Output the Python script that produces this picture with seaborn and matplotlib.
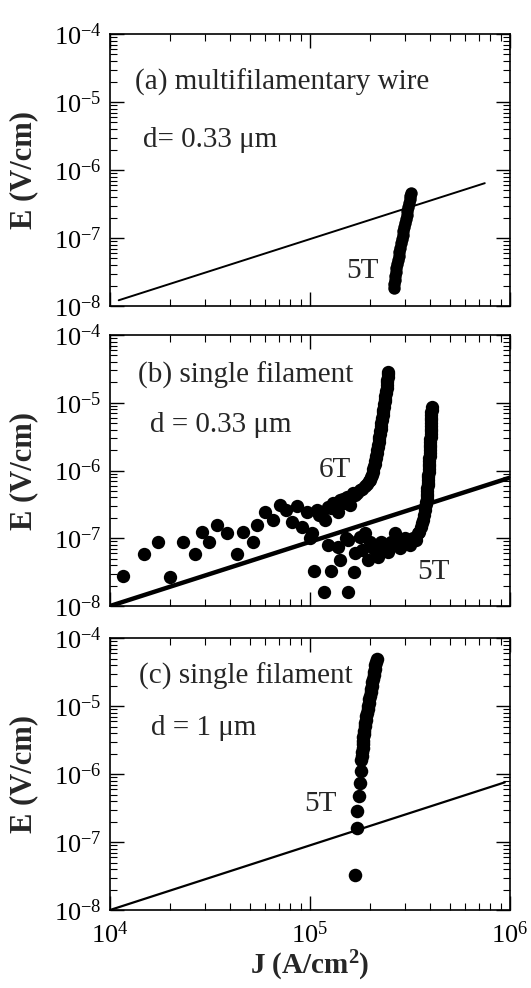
import numpy as np
import pandas as pd
import matplotlib
matplotlib.use("Agg")
import matplotlib.pyplot as plt
import seaborn as sns
from matplotlib.ticker import LogLocator, LogFormatterSciNotation, NullFormatter

# ---------------- data (log10 values) ----------------
# panel (a) multifilamentary wire, 5T
a5_logJ = [5.420, 5.422, 5.424, 5.427, 5.430, 5.433, 5.436, 5.440, 5.444, 5.448,
           5.452, 5.456, 5.460, 5.464, 5.468, 5.472, 5.476, 5.480, 5.484, 5.488,
           5.492, 5.496, 5.499, 5.502, 5.505]
a5_logE = [-7.74, -7.68, -7.62, -7.56, -7.50, -7.44, -7.38, -7.32, -7.26, -7.20,
           -7.14, -7.08, -7.02, -6.96, -6.90, -6.84, -6.78, -6.72, -6.66, -6.60,
           -6.54, -6.48, -6.43, -6.38, -6.34]
a_line_logJ = [4.044, 5.875]
a_line_logE = [-7.916, -6.194]

# panel (b) single filament d=0.33um, 6T
b6_logJ = [4.065, 4.170, 4.240, 4.300, 4.364, 4.425, 4.459, 4.497, 4.534, 4.584,
           4.637, 4.667, 4.717, 4.734, 4.775, 4.815, 4.850, 4.880, 4.909, 4.934,
           4.959, 4.984, 5.009, 5.000, 5.034, 5.045, 5.060, 5.075, 5.090, 5.105,
           5.117, 5.128, 5.140, 5.150, 5.165, 5.172, 5.184, 5.200, 5.215, 5.225,
           5.238, 5.250, 5.262, 5.275, 5.285, 5.295, 5.300,
           5.305, 5.310, 5.314, 5.318, 5.321, 5.324, 5.327, 5.330, 5.333, 5.335,
           5.338, 5.340, 5.342, 5.344, 5.346, 5.348, 5.350, 5.352, 5.354, 5.356,
           5.358, 5.360, 5.362, 5.364, 5.366, 5.368, 5.370, 5.372, 5.374, 5.376,
           5.378, 5.380, 5.382, 5.384, 5.386, 5.387, 5.388, 5.389, 5.390, 5.391]
b6_logE = [-7.557, -7.232, -7.051, -7.568, -7.051, -7.232, -6.903, -7.051, -6.804, -6.918,
           -7.232, -6.903, -7.051, -6.804, -6.613, -6.731, -6.509, -6.583, -6.756, -6.524,
           -6.830, -6.608, -6.927, -6.996, -6.583, -6.650, -6.613, -6.731, -6.539, -6.560,
           -6.484, -6.500, -6.613, -6.435, -6.420, -6.480, -6.387, -6.509, -6.332, -6.360,
           -6.330, -6.288, -6.270, -6.229, -6.200, -6.160, -6.140,
           -6.10, -6.06, -6.02, -5.98, -5.94, -5.90, -5.86, -5.82, -5.78, -5.74,
           -5.70, -5.66, -5.62, -5.58, -5.54, -5.50, -5.46, -5.42, -5.38, -5.34,
           -5.30, -5.26, -5.22, -5.18, -5.14, -5.10, -5.06, -5.02, -4.98, -4.94,
           -4.90, -4.86, -4.82, -4.78, -4.74, -4.70, -4.66, -4.62, -4.58, -4.54]
# panel (b) 5T
b5_logJ = [5.020, 5.073, 5.105, 5.150, 5.192, 5.220, 5.090, 5.140, 5.180, 5.190,
           5.225, 5.250, 5.260, 5.275, 5.290, 5.300, 5.315, 5.330, 5.340, 5.355,
           5.365, 5.390, 5.405, 5.425, 5.440, 5.450, 5.460, 5.475, 5.490, 5.500,
           5.515, 5.530, 5.540, 5.548, 5.555, 5.560, 5.565, 5.570, 5.575,
           5.577, 5.580, 5.582, 5.584, 5.585, 5.586, 5.587, 5.588, 5.589, 5.590,
           5.591, 5.592, 5.593, 5.594, 5.595, 5.596, 5.597, 5.597, 5.598, 5.599,
           5.600, 5.600, 5.601, 5.602, 5.602, 5.603, 5.604, 5.604, 5.605, 5.605,
           5.606, 5.606, 5.607, 5.607, 5.608, 5.608, 5.609, 5.609]
b5_logE = [-7.483, -7.789, -7.483, -7.315, -7.789, -7.498, -7.100, -7.125, -6.996, -7.026,
           -7.222, -6.982, -7.173, -6.927, -7.321, -7.050, -7.144, -7.200, -7.272, -7.050,
           -7.100, -7.198, -7.050, -6.927, -7.100, -7.150, -7.100, -6.996, -7.051, -7.100,
           -6.996, -7.020, -6.927, -6.900, -6.834, -6.780, -6.731, -6.660, -6.583,
           -6.54, -6.50, -6.46, -6.42, -6.38, -6.34, -6.30, -6.26, -6.22, -6.18,
           -6.14, -6.10, -6.06, -6.02, -5.98, -5.94, -5.90, -5.86, -5.82, -5.78,
           -5.74, -5.70, -5.66, -5.62, -5.58, -5.54, -5.50, -5.46, -5.42, -5.38,
           -5.34, -5.30, -5.26, -5.22, -5.18, -5.14, -5.10, -5.06]
b_line_logJ = [4.0, 6.0]
b_line_logE = [-8.0, -6.106]

# panel (c) single filament d=1um, 5T
c5_logJ = [5.228, 5.237, 5.237, 5.245, 5.250, 5.254, 5.258, 5.260, 5.262, 5.264,
           5.265, 5.267, 5.268, 5.270, 5.271, 5.274, 5.277, 5.280, 5.283, 5.286,
           5.289, 5.292, 5.295, 5.298, 5.301, 5.304, 5.307, 5.310, 5.313, 5.316,
           5.319, 5.322, 5.325, 5.328, 5.331, 5.334]
c5_logE = [-7.49, -6.80, -6.55, -6.32, -6.13, -5.96, -5.80, -5.73, -5.67, -5.61,
           -5.56, -5.51, -5.46, -5.41, -5.37, -5.30, -5.25, -5.20, -5.15, -5.10,
           -5.05, -5.00, -4.95, -4.90, -4.85, -4.80, -4.75, -4.70, -4.65, -4.60,
           -4.55, -4.50, -4.45, -4.40, -4.35, -4.31]
c_line_logJ = [4.0, 5.975]
c_line_logE = [-8.0, -6.122]

panel_texts = ["(a) multifilamentary wire", "(b) single filament", "(c) single filament"]
d_texts = ["d= 0.33 \u03bcm", "d = 0.33 \u03bcm", "d = 1 \u03bcm"]
x_label = "J (A/cm$^{\\mathbf{2}}$)"
y_label = "E (V/cm)"

# ---------------- style ----------------
sns.set_style("ticks")
plt.rcParams["font.family"] = ["Liberation Serif", "DejaVu Serif"]
plt.rcParams["mathtext.fontset"] = "custom"
plt.rcParams["mathtext.rm"] = "Liberation Serif"
plt.rcParams["mathtext.it"] = "Liberation Serif:italic"
plt.rcParams["mathtext.bf"] = "Liberation Serif:bold"
plt.rcParams["mathtext.default"] = "rm"


def df_of(lj, le):
    return pd.DataFrame({"J": np.power(10.0, lj), "E": np.power(10.0, le)})


fig = plt.figure(figsize=(5.31, 9.88), dpi=100)
L, W = 0.207, 0.753
rects = [(L, 0.6903, W, 0.2753), (L, 0.3866, W, 0.2743), (L, 0.0789, W, 0.2753)]
axes = [fig.add_axes(r) for r in rects]

def style_axis(ax, show_x):
    ax.set_xscale("log")
    ax.set_yscale("log")
    ax.set_xlim(1e4, 1e6)
    ax.set_ylim(1e-8, 1e-4)
    ax.xaxis.set_major_locator(LogLocator(base=10, numticks=10))
    ax.xaxis.set_minor_locator(LogLocator(base=10, subs=np.arange(2, 10), numticks=20))
    ax.yaxis.set_major_locator(LogLocator(base=10, numticks=10))
    ax.yaxis.set_minor_locator(LogLocator(base=10, subs=np.arange(2, 10), numticks=20))
    ax.yaxis.set_major_formatter(LogFormatterSciNotation())
    ax.yaxis.set_minor_formatter(NullFormatter())
    ax.xaxis.set_minor_formatter(NullFormatter())
    if show_x:
        ax.xaxis.set_major_formatter(LogFormatterSciNotation())
    else:
        ax.xaxis.set_major_formatter(NullFormatter())
    ax.tick_params(which="both", direction="in", top=True, right=True, colors="black")
    ax.tick_params(which="major", length=10, width=1.0, labelsize=19, pad=6)
    ax.tick_params(which="minor", length=5, width=0.8)
    ax.tick_params(axis="x", which="major", pad=8)
    for s in ax.spines.values():
        s.set_linewidth(1.2)
        s.set_color("black")
    ax.set_ylabel(y_label, fontsize=22, fontweight="bold", va="center")
    ax.yaxis.set_label_coords(-0.215, 0.5)
    ax.set_xlabel("")

# panel a
ax = axes[0]
sns.lineplot(data=df_of(a_line_logJ, a_line_logE), x="J", y="E", ax=ax, color="black", lw=1.4)
sns.scatterplot(data=df_of(a5_logJ, a5_logE), x="J", y="E", ax=ax, color="black", s=80, linewidth=0)
style_axis(ax, False)
ax.text(0.062, 0.824, panel_texts[0], transform=ax.transAxes, fontsize=21, va="center", ha="left")
ax.text(0.083, 0.609, d_texts[0], transform=ax.transAxes, fontsize=21, va="center", ha="left")
ax.text(0.590, 0.127, "5T", transform=ax.transAxes, fontsize=21, va="center", ha="left")

# panel b
ax = axes[1]
sns.lineplot(data=df_of(b_line_logJ, b_line_logE), x="J", y="E", ax=ax, color="black", lw=3.2)
sns.scatterplot(data=df_of(b6_logJ, b6_logE), x="J", y="E", ax=ax, color="black", s=92, linewidth=0)
sns.scatterplot(data=df_of(b5_logJ, b5_logE), x="J", y="E", ax=ax, color="black", s=92, linewidth=0)
style_axis(ax, False)
ax.text(0.070, 0.852, panel_texts[1], transform=ax.transAxes, fontsize=21, va="center", ha="left")
ax.text(0.099, 0.668, d_texts[1], transform=ax.transAxes, fontsize=21, va="center", ha="left")
ax.text(0.522, 0.502, "6T", transform=ax.transAxes, fontsize=21, va="center", ha="left")
ax.text(0.769, 0.127, "5T", transform=ax.transAxes, fontsize=21, va="center", ha="left")

# panel c
ax = axes[2]
sns.lineplot(data=df_of(c_line_logJ, c_line_logE), x="J", y="E", ax=ax, color="black", lw=1.6)
sns.scatterplot(data=df_of(c5_logJ, c5_logE), x="J", y="E", ax=ax, color="black", s=95, linewidth=0)
style_axis(ax, True)
ax.text(0.073, 0.860, panel_texts[2], transform=ax.transAxes, fontsize=21, va="center", ha="left")
ax.text(0.102, 0.671, d_texts[2], transform=ax.transAxes, fontsize=21, va="center", ha="left")
ax.text(0.485, 0.390, "5T", transform=ax.transAxes, fontsize=21, va="center", ha="left")
ax.set_xlabel(x_label, fontsize=21, fontweight="bold", labelpad=1)

fig.savefig("out.png", dpi=100)
